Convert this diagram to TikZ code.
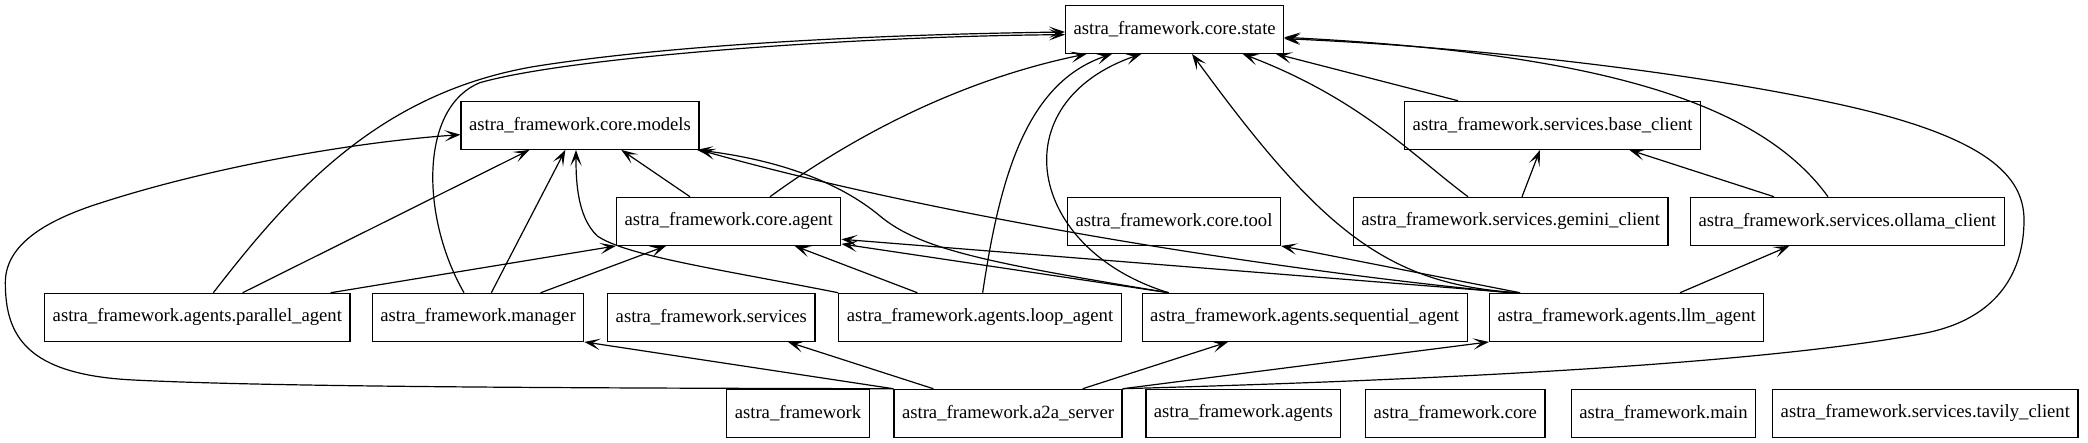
\documentclass[tikz,border=0pt]{standalone}
\usepackage{fontspec}
\setmainfont{Liberation Serif}
\usepackage{tikz}
\usetikzlibrary{arrows.meta,positioning,calc}

\begin{document}
\begin{tikzpicture}[x=1pt,y=1pt,
    mod/.style={draw, line width=0.9pt, minimum height=36pt, inner xsep=6pt,
        font=\fontsize{14}{16}\selectfont},
    dep/.style={line width=0.9pt, -{Stealth[length=12pt,width=8.5pt,inset=6pt]}}]
    \useasboundingbox (0,0) rectangle (1566,332);

    % rank 1 and 2
    \node[mod] (state) at (881,310) {astra\_framework.core.state};
    \node[mod] (models) at (435,238) {astra\_framework.core.models};
    \node[mod] (baseclient) at (1164.5,238) {astra\_framework.services.base\_client};

    % rank 3
    \node[mod] (coreagent) at (546.5,166) {astra\_framework.core.agent};
    \node[mod] (coretool) at (880.5,166) {astra\_framework.core.tool};
    \node[mod] (gemini) at (1133,166) {astra\_framework.services.gemini\_client};
    \node[mod] (ollama) at (1385.5,166) {astra\_framework.services.ollama\_client};

    % rank 4
    \node[mod] (parallel) at (148,94) {astra\_framework.agents.parallel\_agent};
    \node[mod] (manager) at (358.5,94) {astra\_framework.manager};
    \node[mod] (services) at (533.5,94) {astra\_framework.services};
    \node[mod] (loopag) at (735,94) {astra\_framework.agents.loop\_agent};
    \node[mod] (seqag) at (978.5,94) {astra\_framework.agents.sequential\_agent};
    \node[mod] (llmag) at (1220,94) {astra\_framework.agents.llm\_agent};

    % rank 5
    \node[mod] (pkg) at (598.5,22) {astra\_framework};
    \node[mod] (a2a) at (756,22) {astra\_framework.a2a\_server};
    \node[mod] (agentspkg) at (932.5,22) {astra\_framework.agents};
    \node[mod] (corepkg) at (1091.5,22) {astra\_framework.core};
    \node[mod] (mainmod) at (1247.6,22) {astra\_framework.main};
    \node[mod] (tavily) at (1444,22) {astra\_framework.services.tavily\_client};

    % imports of core.state
    \draw[dep] ([xshift=12pt]parallel.north) .. controls (220,190) and (285,262) .. (400,282)
        .. controls (500,298) and (650,306) .. ([yshift=-2pt]state.west);
    \draw[dep] ([xshift=-10.5pt]manager.north) .. controls (315,170) and (315,252) .. (360,270)
        .. controls (430,290) and (650,305) .. ([yshift=-4pt]state.west);
    \draw[dep] ([xshift=31pt]coreagent.north) .. controls (640,230) and (720,272) .. ([xshift=-66pt]state.south);
    \draw[dep] ([xshift=2pt]loopag.north) .. controls (750,200) and (770,270) .. ([xshift=-47pt]state.south);
    \draw[dep] ([xshift=-102pt]seqag.north) .. controls (770,145) and (750,255) .. ([xshift=-25pt]state.south);
    \draw[dep] ([xshift=-80pt]llmag.north) .. controls (1040,118) and (990,160) .. ([xshift=13pt]state.south);
    \draw[dep] ([xshift=-32pt]gemini.north) .. controls (1060,215) and (1020,258) .. ([xshift=51pt]state.south);
    \draw[dep] ([xshift=-71pt]baseclient.north) -- ([xshift=76pt]state.south);
    \draw[dep] ([xshift=-14.5pt]ollama.north) .. controls (1320,255) and (1200,292) .. ([yshift=-6pt]state.east);

    % imports of core.models
    \draw[dep] ([xshift=34pt]parallel.north) -- ([xshift=-38pt]models.south);
    \draw[dep] ([xshift=10pt]manager.north) -- ([xshift=-11pt]models.south);
    \draw[dep] ([xshift=-29pt]coreagent.north) -- ([xshift=31pt]models.south);
    \draw[dep] (loopag.north west) .. controls (540,130) and (470,140) .. (448,155)
        .. controls (432,170) and (432,200) .. ([xshift=-3pt]models.south);
    \draw[dep] ([xshift=-102pt]seqag.north) .. controls (740,135) and (690,145) .. (660,170)
        .. controls (630,195) and (585,212) .. ([xshift=-2pt]models.south east);
    \draw[dep] ([xshift=-88pt]llmag.north) .. controls (950,130) and (700,170) .. (models.south east);

    % imports of core.agent
    \draw[dep] ([xshift=100pt]parallel.north) -- (coreagent.south west);
    \draw[dep] ([xshift=47pt]manager.north) -- ([xshift=-47pt]coreagent.south);
    \draw[dep] ([xshift=-47pt]loopag.north) -- ([xshift=49.5pt]coreagent.south);
    \draw[dep] ([xshift=-102pt]seqag.north) -- ([yshift=1.5pt]coreagent.south east);
    \draw[dep] ([xshift=-85pt]llmag.north) -- ([yshift=5pt]coreagent.south east);

    % llm_agent and the clients
    \draw[dep] ([xshift=-80pt]llmag.north) -- (coretool.south east);
    \draw[dep] ([xshift=40pt]llmag.north) -- ([xshift=-43.5pt]ollama.south);
    \draw[dep] ([xshift=8.5pt]gemini.north) -- ([xshift=-9.5pt]baseclient.south);
    \draw[dep] ([xshift=-55pt]ollama.north) -- ([xshift=57.5pt]baseclient.south);

    % a2a_server
    \draw[dep] (a2a.north west) -- (manager.south east);
    \draw[dep] ([xshift=-56pt]a2a.north) -- ([xshift=57.5pt]services.south);
    \draw[dep] ([xshift=56pt]a2a.north) -- ([xshift=-57.5pt]seqag.south);
    \draw[dep] (a2a.north east) -- (llmag.south west);
    \draw[dep] (a2a.north west) .. controls (400,41) and (200,42) .. (100,47)
        .. controls (20,51) and (4,80) .. (4,120)
        .. controls (4,145) and (27,163) .. (67,177)
        .. controls (150,205) and (260,225) .. ([yshift=-7pt]models.west);
    \draw[dep] (a2a.north east) .. controls (1000,45) and (1300,55) .. (1443,82)
        .. controls (1500,93) and (1518,130) .. (1518,167)
        .. controls (1518,200) and (1490,230) .. (1376,254.5)
        .. controls (1262,279) and (1100,297) .. ([yshift=-7pt]state.east);
\end{tikzpicture}
\end{document}
